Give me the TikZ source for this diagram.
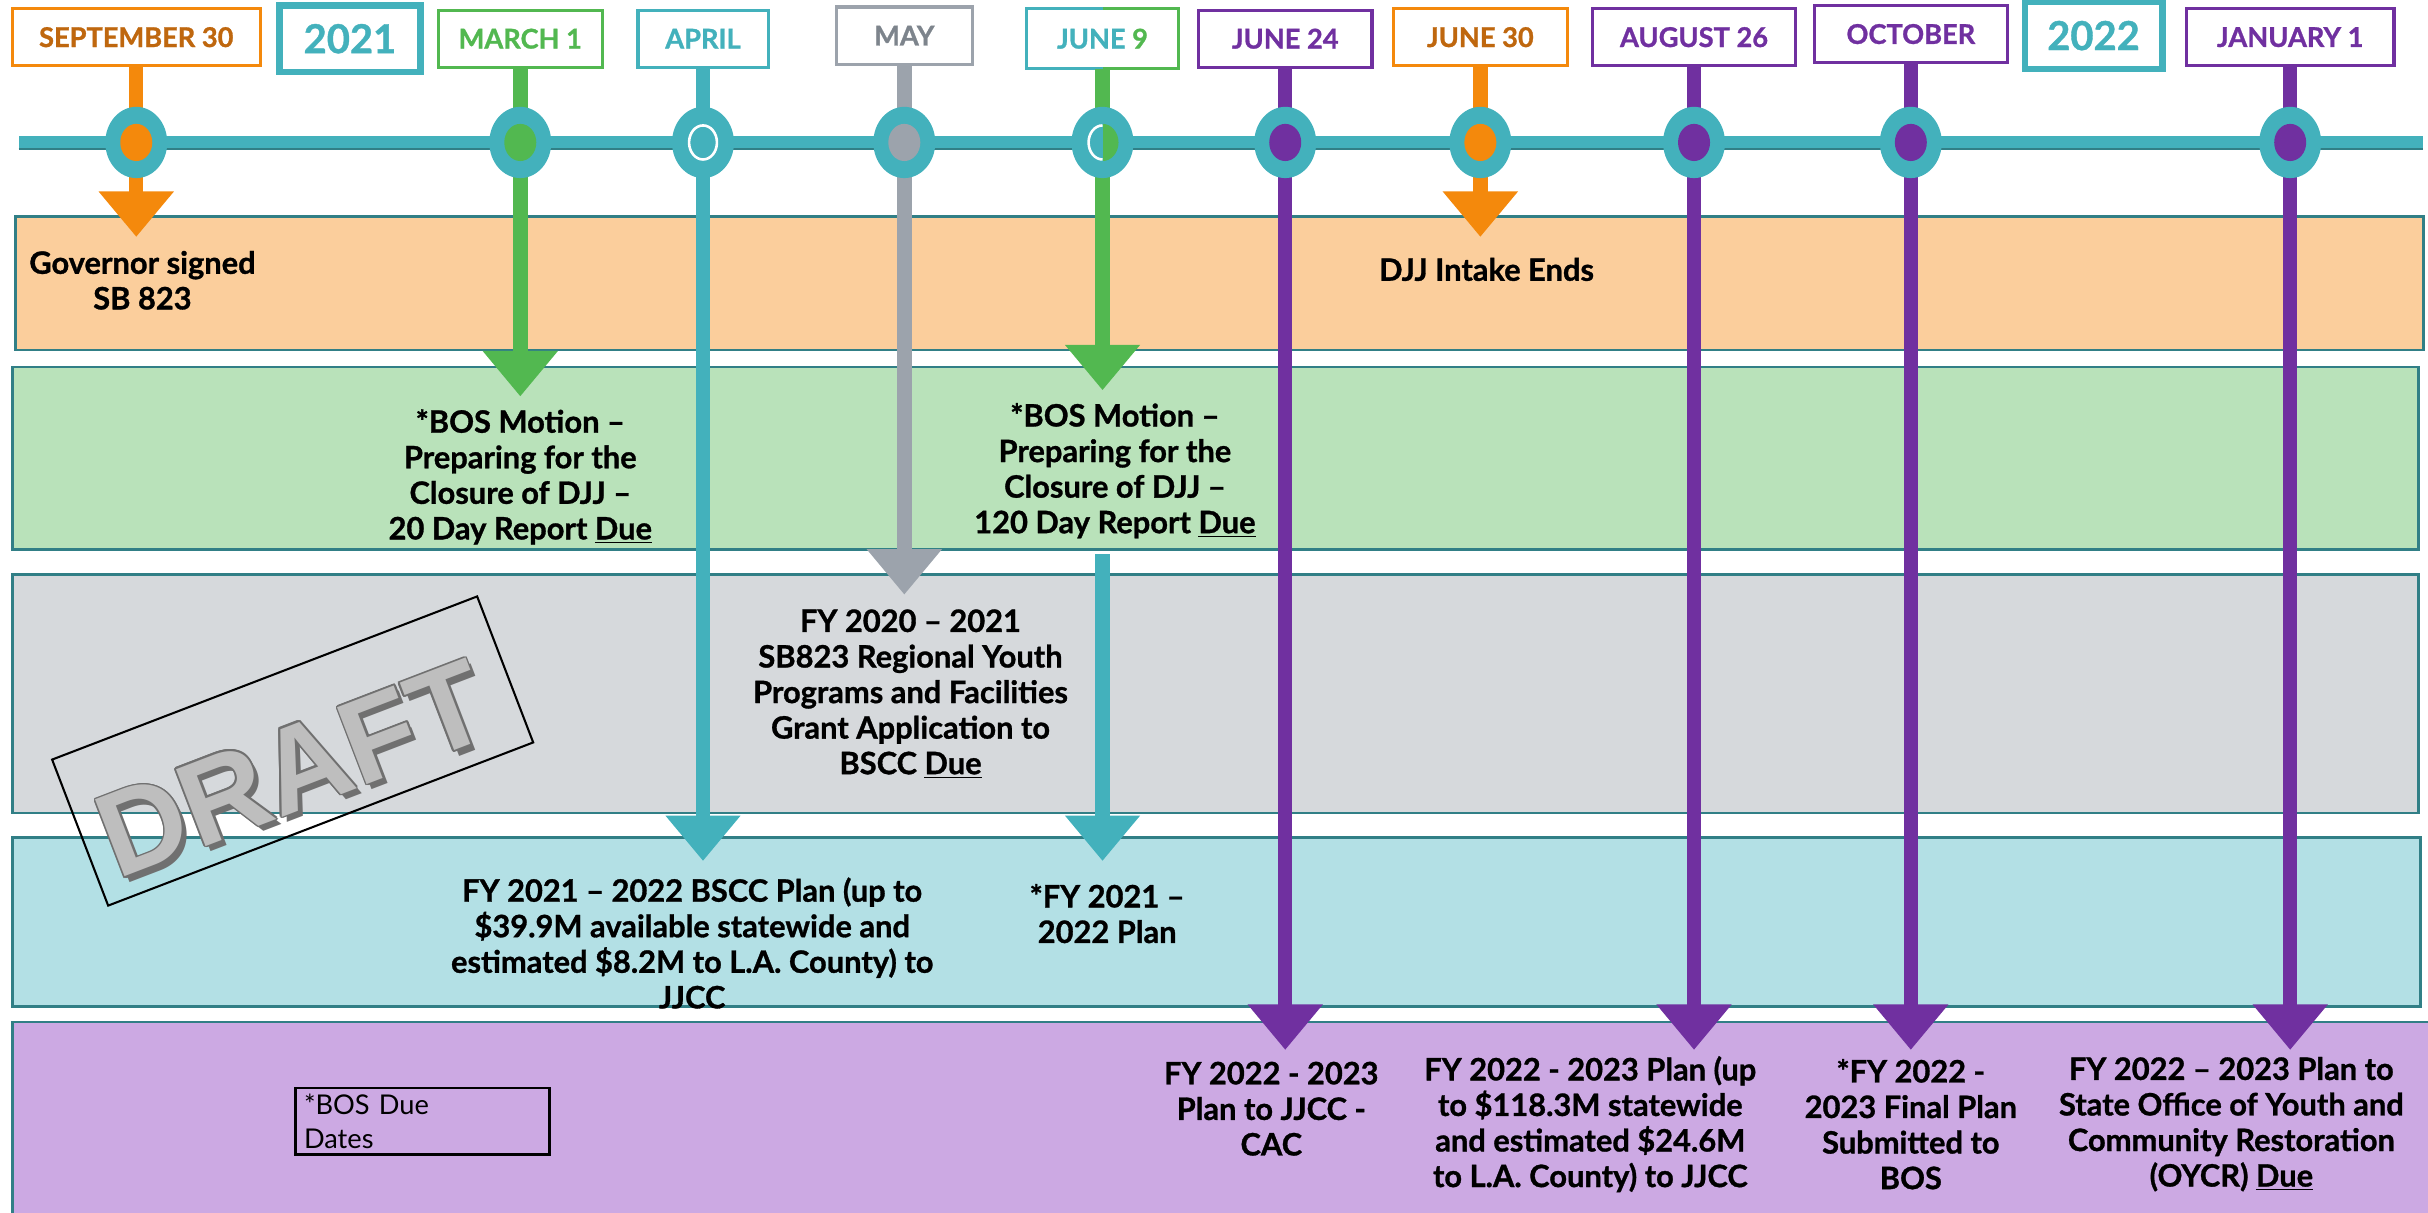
\documentclass[tikz,border=0pt]{standalone}
\usepackage{fontspec}
\setmainfont{Lato}[BoldFeatures={FakeBold=1}]
\newfontfamily\stampfont{Liberation Sans}
\usepackage{contour}
\contourlength{0.9pt}
\contournumber{12}
\usetikzlibrary{arrows.meta,shapes.geometric}

\definecolor{tl}{HTML}{43B1BC}
\definecolor{tldark}{HTML}{317F86}
\definecolor{org}{HTML}{F4890C}
\definecolor{orgtxt}{HTML}{BF670E}
\definecolor{grn}{HTML}{52B850}
\definecolor{gry}{HTML}{9CA3AC}
\definecolor{grytxt}{HTML}{7D848C}
\definecolor{prp}{HTML}{7030A0}
\definecolor{bandorg}{HTML}{FBCE9C}
\definecolor{bandgrn}{HTML}{B9E2BA}
\definecolor{bandgry}{HTML}{D6D9DC}
\definecolor{bandtl}{HTML}{B3E0E5}
\definecolor{bandprp}{HTML}{CCA9E3}
\definecolor{stampgry}{HTML}{BEBEBE}
\definecolor{stampdark}{HTML}{707070}

\newcommand\evfont{\bfseries\fontsize{17}{19.6}\selectfont}

\begin{document}
\begin{tikzpicture}[
		x=0.03cm, y=-0.03cm,
		band/.style={draw=tldark, line width=0.05cm},
		datebox/.style 2 args={draw=#2, text=#1, line width=0.06cm, fill=white,
			minimum height=1.11cm, inner sep=0pt, font=\bfseries\fontsize{15}{17}\selectfont},
		yearbox/.style={draw=tl, text=tl, line width=0.12cm, fill=white,
			minimum height=1.29cm, inner sep=0pt, font=\bfseries\fontsize{22}{24}\selectfont},
		stem/.style={draw=#1, line width=0.28cm, -{Triangle[width=1.4cm, length=0.88cm]}},
		evdot/.style={ellipse, fill=tl, minimum width=1.2cm, minimum height=1.38cm, inner sep=0pt,
			path picture={\fill[#1] (path picture bounding box.center) ellipse (0.31cm and 0.36cm);}},
		evtext/.style={align=center, inner sep=0pt, font=\evfont}
	]
  \useasboundingbox (0,0) rectangle (1568,783);

  % rows
  \draw[band, fill=bandorg] (10,140) rectangle (1565,226);
  \draw[band, fill=bandgrn] (8,237) rectangle (1562,355);
  \draw[band, fill=bandgry] (8,371) rectangle (1562,525);
  \draw[band, fill=bandtl] (8,541) rectangle (1563,650);
  \draw[band, fill=bandprp] (8,660) rectangle (1575,795);

  % time line
  \fill[tl] (12,88) rectangle (1565,96);
  \draw[tldark, line width=0.04cm] (12,96) -- (1565,96);

  % dates
  \node[datebox={orgtxt}{org}, minimum width=4.8cm] (sep) at (88,24) {SEPTEMBER 30};
  \node[yearbox, minimum width=2.73cm] (y2021) at (226,25) {2021};
  \node[datebox={grn}{grn}, minimum width=3.18cm] (mar) at (336,25) {MARCH 1};
  \node[datebox={tl}{tl}, minimum width=2.52cm] (apr) at (454,25) {APRIL};
  \node[datebox={grytxt}{gry}, minimum width=2.64cm] (may) at (584,23) {MAY};
  \node[datebox={tl}{none}, minimum width=2.88cm] (jun9) at (712,25) {JUNE \textcolor{grn}{9}};
  \draw[tl, line width=0.06cm] (jun9.north) -| (jun9.south west) -- (jun9.south);
  \draw[grn, line width=0.06cm] (jun9.north) -| (jun9.south east) -- (jun9.south);
  \node[datebox={prp}{prp}, minimum width=3.36cm] (jun24) at (830,25) {JUNE 24};
  \node[datebox={orgtxt}{org}, minimum width=3.36cm] (jun30) at (956,24) {JUNE 30};
  \node[datebox={prp}{prp}, minimum width=3.93cm] (aug) at (1094,24) {AUGUST 26};
  \node[datebox={prp}{prp}, minimum width=3.75cm] (oct) at (1234,22) {OCTOBER};
  \node[yearbox, minimum width=2.67cm] (y2022) at (1352,23) {2022};
  \node[datebox={prp}{prp}, minimum width=4.02cm] (jan) at (1479,24) {JANUARY 1};

  % arrow ends
  \coordinate (sepend) at (88,153);
  \coordinate (marend) at (336,256);
  \coordinate (aprend) at (454,556);
  \coordinate (mayend) at (584,384);
  \coordinate (jun9end) at (712,252);
  \coordinate (jun9b) at (712,358);
  \coordinate (jun9bend) at (712,556);
  \coordinate (jun24end) at (830,678);
  \coordinate (jun30end) at (956,153);
  \coordinate (augend) at (1094,678);
  \coordinate (octend) at (1234,678);
  \coordinate (janend) at (1479,678);

  \draw[stem=org] (sep) -- (sepend);
  \draw[stem=grn] (mar) -- (marend);
  \draw[stem=tl] (apr) -- (aprend);
  \draw[stem=gry] (may) -- (mayend);
  \draw[stem=grn] (jun9) -- (jun9end);
  \draw[stem=tl] (jun9b) -- (jun9bend);
  \draw[stem=prp] (jun24) -- (jun24end);
  \draw[stem=org] (jun30) -- (jun30end);
  \draw[stem=prp] (aug) -- (augend);
  \draw[stem=prp] (oct) -- (octend);
  \draw[stem=prp] (jan) -- (janend);

  % dots on the line
  \node[evdot=org] (csep) at (88,92) {};
  \node[evdot=grn] (cmar) at (336,92) {};
  \node[evdot=tl] (capr) at (454,92) {};
  \draw[white, line width=0.05cm] (capr.center) ellipse (0.27cm and 0.33cm);
  \node[evdot=gry] (cmay) at (584,92) {};
  \node[evdot=grn] (cjun9) at (712,92) {};
  \fill[tl] ([xshift=-0.4cm, yshift=0.4cm]cjun9.center) rectangle ([yshift=-0.4cm]cjun9.center);
  \draw[white, line width=0.05cm] ([yshift=0.33cm]cjun9.center)
    arc[start angle=90, end angle=270, x radius=0.27cm, y radius=0.33cm];
  \node[evdot=prp] (cjun24) at (830,92) {};
  \node[evdot=org] (cjun30) at (956,92) {};
  \node[evdot=prp] (caug) at (1094,92) {};
  \node[evdot=prp] (coct) at (1234,92) {};
  \node[evdot=prp] (cjan) at (1479,92) {};

  % what happens
  \node[evtext] (gov) at (92,181) {Governor signed\\SB 823};
  \node[evtext] (intake) at (960,174) {DJJ Intake Ends};
  \node[evtext] (bos20) at (336,308) {*BOS Motion –\\Preparing for the\\Closure of DJJ –\\20 Day Report \underline{Due}};
  \node[evtext] (bos120) at (720,304) {*BOS Motion –\\Preparing for the\\Closure of DJJ –\\120 Day Report \underline{Due}};
  \node[evtext] (grant) at (588,448) {FY 2020 – 2021\\SB823 Regional Youth\\Programs and Facilities\\Grant Application to\\BSCC \underline{Due}};
  \node[evtext] (bscc) at (447,609) {FY 2021 – 2022 BSCC Plan (up to\\\$39.9M available statewide and\\estimated \$8.2M to L.A. County) to\\JJCC};
  \node[evtext] (fy2122) at (715,590) {*FY 2021 –\\2022 Plan};
  \node[evtext] (cac) at (821,716) {FY 2022 - 2023\\Plan to JJCC -\\CAC};
  \node[evtext] (jjcc) at (1027,726) {FY 2022 - 2023 Plan (up\\to \$118.3M statewide\\and estimated \$24.6M\\to L.A. County) to JJCC};
  \node[evtext] (final) at (1234,726) {*FY 2022 -\\2023 Final Plan\\Submitted to\\BOS};
  \node[evtext] (oycr) at (1441,726) {FY 2022 – 2023 Plan to\\State Office of Youth and\\Community Restoration\\(OYCR) \underline{Due}};

  \node[draw, line width=0.05cm, minimum width=4.92cm, minimum height=1.29cm, text width=4.6cm,
    align=left, inner sep=0.1cm, font=\fontsize{15}{19}\selectfont] (note) at (273,724) {*BOS Due\\Dates};

  % draft stamp
  \node[draw, line width=0.04cm, rotate=21, minimum width=8.82cm, minimum height=3.03cm] (stamp) at (189,485) {};
  \node[rotate=21, text=stampdark, font=\stampfont\bfseries\fontsize{66}{66}\selectfont] (draftsh) at (192,500) {DRAFT};
  \node[rotate=21, font=\stampfont\bfseries\fontsize{66}{66}\selectfont] (draft) at (189,497)
    {\contour{stampdark}{\textcolor{stampgry}{DRAFT}}};
\end{tikzpicture}
\end{document}
